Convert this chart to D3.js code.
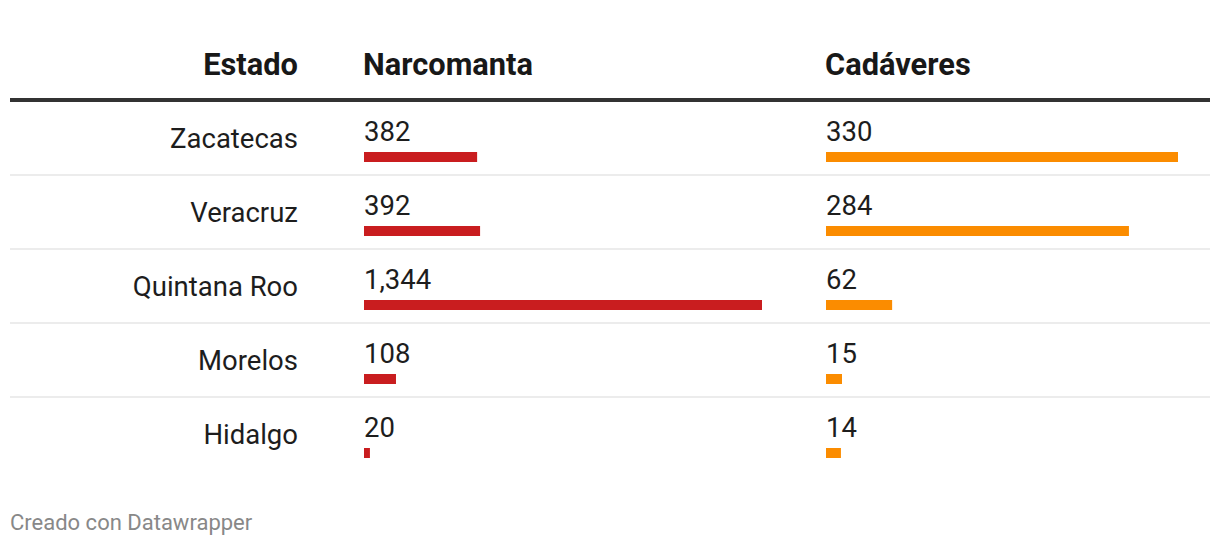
<!DOCTYPE html>
<html>
<head>
<meta charset="utf-8">
<script src="https://cdn.jsdelivr.net/npm/d3@7"></script>
<style>
  html, body { margin: 0; padding: 0; background: #fff; }
  svg { display: block; font-family: Roboto, "Noto Sans", sans-serif; }
</style>
</head>
<body>
<svg id="chart" width="1220" height="546"></svg>
<script>
const columns = ["Estado", "Narcomanta", "Cadáveres"];
const estados = ["Zacatecas", "Veracruz", "Quintana Roo", "Morelos", "Hidalgo"];
const narcomanta = [382, 392, 1344, 108, 20];
const cadaveres = [330, 284, 62, 15, 14];
const footer = "Creado con Datawrapper";

const W = 1220, H = 546;
const svg = d3.select("#chart");
const fmt = d3.format(",");

const rowY = d3.scaleBand().domain(estados).range([102, 102 + 74 * estados.length]).padding(0);
const xNarco = d3.scaleLinear().domain([0, d3.max(narcomanta)]).range([364, 762]);
const xCad = d3.scaleLinear().domain([0, d3.max(cadaveres)]).range([826, 1178]);

// Header
const header = svg.append("g");
const hdr = (x, anchor, t) => header.append("text").attr("x", x).attr("y", 75)
  .attr("text-anchor", anchor).attr("font-weight", 700).attr("font-size", 30.8)
  .attr("fill", "#181818").text(t);
hdr(298, "end", columns[0]);
hdr(363, "start", columns[1]);
hdr(825, "start", columns[2]);
header.append("rect").attr("x", 10).attr("y", 98).attr("width", 1200).attr("height", 4).attr("fill", "#333333");

const data = estados.map((e, i) => ({ estado: e, n: narcomanta[i], c: cadaveres[i], i }));

const rows = svg.selectAll("g.row").data(data).join("g").attr("class", "row")
  .attr("transform", d => `translate(0,${rowY(d.estado)})`);

rows.append("text").attr("x", 298).attr("y", 46).attr("text-anchor", "end")
  .attr("font-size", 27.5).attr("fill", "#1d1d1d").text(d => d.estado);

rows.append("text").attr("x", xNarco(0)).attr("y", 39)
  .attr("font-size", 27.5).attr("fill", "#1d1d1d").text(d => fmt(d.n));
rows.append("rect").attr("x", xNarco(0)).attr("y", 50)
  .attr("width", d => xNarco(d.n) - xNarco(0)).attr("height", 10).attr("fill", "#c91d1f");

rows.append("text").attr("x", xCad(0)).attr("y", 39)
  .attr("font-size", 27.5).attr("fill", "#1d1d1d").text(d => fmt(d.c));
rows.append("rect").attr("x", xCad(0)).attr("y", 50)
  .attr("width", d => xCad(d.c) - xCad(0)).attr("height", 10).attr("fill", "#fb8c00");

rows.filter(d => d.i < estados.length - 1).append("rect")
  .attr("x", 10).attr("y", rowY.bandwidth() - 2).attr("width", 1200).attr("height", 2).attr("fill", "#ececec");

svg.append("text").attr("x", 10).attr("y", 530).attr("font-size", 22).attr("fill", "#888888").text(footer);
</script>
</body>
</html>
